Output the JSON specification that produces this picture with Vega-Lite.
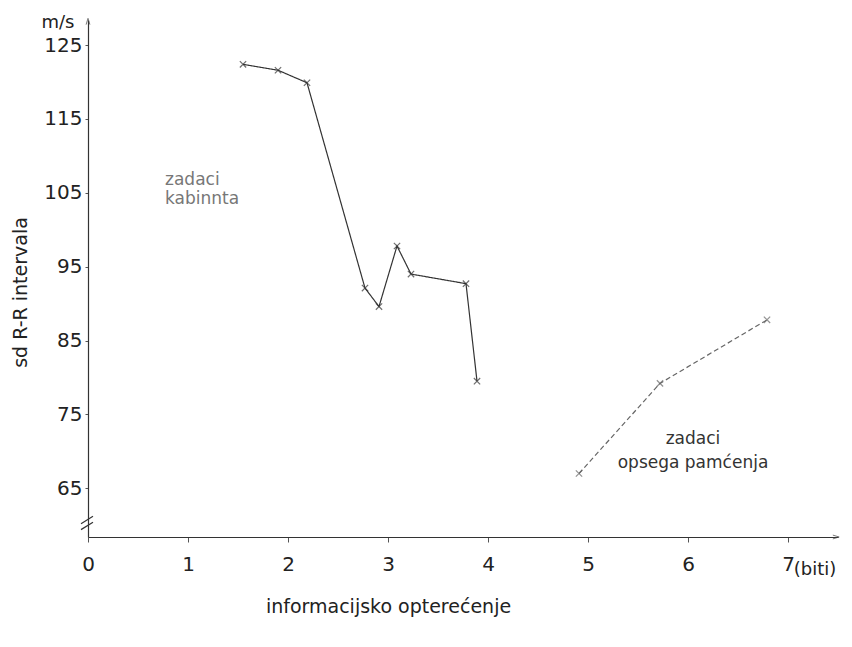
{
  "$schema": "https://vega.github.io/schema/vega-lite/v6.json",
  "width": 750,
  "height": 517,
  "autosize": {"type": "none"},
  "padding": {"left": 88, "top": 20, "right": 14, "bottom": 110},
  "background": "white",
  "config": {
    "view": {"stroke": null},
    "font": "DejaVu Sans",
    "axis": {
      "grid": false,
      "domainColor": "#333",
      "tickColor": "#555",
      "labelColor": "#222",
      "titleColor": "#222",
      "titleFontWeight": "normal"
    }
  },
  "datasets": {
    "series": [
      {"task": "kabina", "x": 1.55, "y": 122.4},
      {"task": "kabina", "x": 1.9, "y": 121.6},
      {"task": "kabina", "x": 2.19, "y": 119.9},
      {"task": "kabina", "x": 2.77, "y": 92.1},
      {"task": "kabina", "x": 2.91, "y": 89.6},
      {"task": "kabina", "x": 3.09, "y": 97.8},
      {"task": "kabina", "x": 3.23, "y": 94.0},
      {"task": "kabina", "x": 3.78, "y": 92.7},
      {"task": "kabina", "x": 3.89, "y": 79.5},
      {"task": "pamcenje", "x": 4.91, "y": 67.0},
      {"task": "pamcenje", "x": 5.72, "y": 79.2},
      {"task": "pamcenje", "x": 6.79, "y": 87.8}
    ],
    "labelsA": [
      {"text": "zadaci", "x": 0.77, "y": 106.7},
      {"text": "kabinnta", "x": 0.77, "y": 104.2}
    ],
    "labelsB": [
      {"text": "zadaci", "x": 6.05, "y": 71.7},
      {"text": "opsega  pamćenja", "x": 6.05, "y": 68.4}
    ],
    "breaks": [
      {"x": -0.07, "y": 60.2, "x2": 0.05, "y2": 61.2},
      {"x": -0.07, "y": 59.4, "x2": 0.05, "y2": 60.4}
    ],
    "arrows": [
      {"x": 0, "y": 128.2, "dir": "up"},
      {"x": 7.48, "y": 58.4, "dir": "right"}
    ],
    "extra": [
      {"text": "m/s", "x": -0.3, "y": 128.0},
      {"text": "(biti)", "x": 7.27, "y": 53.9}
    ]
  },
  "layer": [
    {
      "data": {"name": "series"},
      "mark": {"type": "line", "strokeWidth": 1.2},
      "encoding": {
        "x": {
          "field": "x", "type": "quantitative",
          "scale": {"domain": [0, 7.5], "nice": false, "zero": false},
          "axis": {
            "values": [0, 1, 2, 3, 4, 5, 6, 7],
            "format": "d",
            "title": "informacijsko  opterećenje",
            "titleFontSize": 19,
            "titleX": 300,
            "titleY": 60,
            "titleAnchor": null,
            "titleAlign": "center",
            "labelFontSize": 20,
            "labelPadding": 12,
            "tickSize": 5,
            "labelFlush": false,
            "domainWidth": 1.2
          }
        },
        "y": {
          "field": "y", "type": "quantitative",
          "scale": {"domain": [58.4, 128.4], "nice": false, "zero": false},
          "axis": {
            "values": [65, 75, 85, 95, 105, 115, 125],
            "title": "sd R-R intervala",
            "titleFontSize": 19,
            "titleX": -68,
            "titleY": 272,
            "titleAngle": 270,
            "titleAlign": "center",
            "titleBaseline": "middle",
            "labelFontSize": 20,
            "labelPadding": 3,
            "tickSize": 3,
            "labelFlush": false,
            "domainWidth": 1.2
          }
        },
        "detail": {"field": "task"},
        "color": {"field": "task", "scale": {"domain": ["kabina", "pamcenje"], "range": ["#333333", "#666666"]}, "legend": null},
        "strokeDash": {"field": "task", "scale": {"domain": ["kabina", "pamcenje"], "range": [[1, 0], [5, 3]]}, "legend": null}
      }
    },
    {
      "data": {"name": "series"},
      "mark": {"type": "point", "shape": "M-1,-1L1,1M-1,1L1,-1", "filled": false, "size": 40, "strokeWidth": 1.2},
      "encoding": {
        "x": {"field": "x", "type": "quantitative"},
        "y": {"field": "y", "type": "quantitative"},
        "color": {"field": "task", "scale": {"domain": ["kabina", "pamcenje"], "range": ["#333333", "#666666"]}, "legend": null}
      }
    },
    {
      "data": {"name": "labelsA"},
      "mark": {"type": "text", "fontSize": 17, "align": "left", "baseline": "middle", "color": "#777777"},
      "encoding": {
        "x": {"field": "x", "type": "quantitative"},
        "y": {"field": "y", "type": "quantitative"},
        "text": {"field": "text"}
      }
    },
    {
      "data": {"name": "labelsB"},
      "mark": {"type": "text", "fontSize": 17, "align": "center", "baseline": "middle", "color": "#333333"},
      "encoding": {
        "x": {"field": "x", "type": "quantitative"},
        "y": {"field": "y", "type": "quantitative"},
        "text": {"field": "text"}
      }
    },
    {
      "data": {"name": "extra"},
      "mark": {"type": "text", "fontSize": 18, "align": "center", "baseline": "middle", "color": "#222"},
      "encoding": {
        "x": {"field": "x", "type": "quantitative"},
        "y": {"field": "y", "type": "quantitative"},
        "text": {"field": "text"}
      }
    },
    {
      "data": {"name": "breaks"},
      "mark": {"type": "rule", "color": "#333", "strokeWidth": 1.2},
      "encoding": {
        "x": {"field": "x", "type": "quantitative"},
        "y": {"field": "y", "type": "quantitative"},
        "x2": {"field": "x2"},
        "y2": {"field": "y2"}
      }
    },
    {
      "data": {"name": "arrows"},
      "mark": {"type": "point", "filled": false, "size": 40, "strokeWidth": 1, "color": "#444"},
      "encoding": {
        "x": {"field": "x", "type": "quantitative"},
        "y": {"field": "y", "type": "quantitative"},
        "shape": {"field": "dir", "type": "nominal", "scale": {"domain": ["up", "right"], "range": ["M-0.6,1L0,-1L0.6,1", "M-1,-0.6L1,0L-1,0.6"]}, "legend": null}
      }
    }
  ]
}
